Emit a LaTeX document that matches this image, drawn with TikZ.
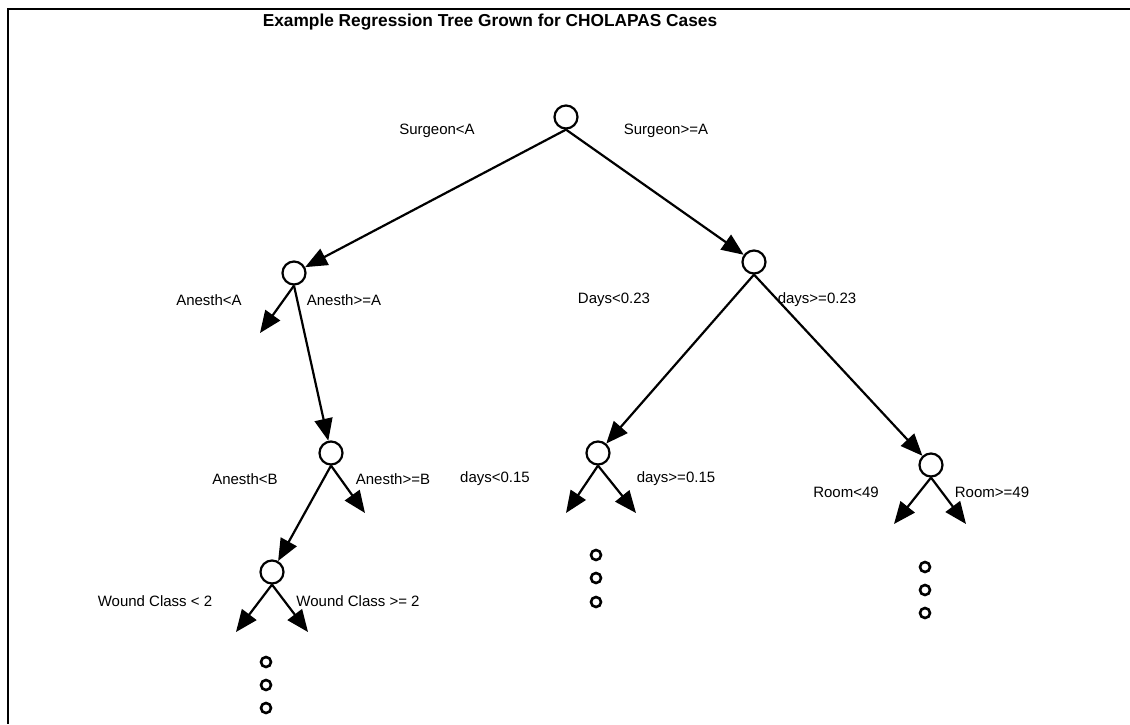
\documentclass[tikz,border=0pt]{standalone}
\usepackage{fontspec}
\setmainfont{Liberation Sans}
\usetikzlibrary{arrows.meta}
\begin{document}
\begin{tikzpicture}[x=1pt,y=-1pt,
  split/.style={circle,draw,line width=2.2pt,minimum size=23pt,inner sep=0pt},
  dotnode/.style={circle,draw,line width=2.6pt,minimum size=10pt,inner sep=0pt},
  lbl/.style={font=\fontsize{15}{18}\selectfont,inner sep=0pt},
  ttl/.style={font=\fontsize{17.3}{20}\selectfont\bfseries,inner sep=0pt},
  edge/.style={line width=2.2pt,-{Triangle[length=22pt,width=18pt]}},
  frameline/.style={line width=2.4pt}]
\useasboundingbox (0,0) rectangle (1130,724);
% frame
\coordinate (ftr) at (1130,9);
\coordinate (ftl) at (8,9);
\coordinate (fbl) at (8,724);
\draw[frameline] (ftr) -- (ftl) -- (fbl);
% title
\node[ttl] (title) at (490,22) {Example Regression Tree Grown for CHOLAPAS Cases};
% split nodes
\node[split] (root) at (566,117) {};
\node[split] (L1) at (294,273) {};
\node[split] (R1) at (754,262) {};
\node[split] (L2) at (331,453) {};
\node[split] (M) at (598,453) {};
\node[split] (RR) at (931,465) {};
\node[split] (L3) at (272,572) {};
% leaf end points
\coordinate (L1a) at (260,333);
\coordinate (L2b) at (365,513);
\coordinate (Ma) at (566,513);
\coordinate (Mb) at (636,513);
\coordinate (RRa) at (894,524);
\coordinate (RRb) at (966,524);
\coordinate (L3a) at (236,632);
\coordinate (L3b) at (308,632);
% edges
\draw[edge] (root.south) -- (L1);
\draw[edge] (root.south) -- (R1);
\draw[edge] (L1.south) -- (L1a);
\draw[edge] (L1.south) -- (L2);
\draw[edge] (R1.south) -- (M);
\draw[edge] (R1.south) -- (RR);
\draw[edge] (L2.south) -- (L3);
\draw[edge] (L2.south) -- (L2b);
\draw[edge] (M.south) -- (Ma);
\draw[edge] (M.south) -- (Mb);
\draw[edge] (RR.south) -- (RRa);
\draw[edge] (RR.south) -- (RRb);
\draw[edge] (L3.south) -- (L3a);
\draw[edge] (L3.south) -- (L3b);
% labels
\node[lbl] (s1) at (437,131) {Surgeon<A};
\node[lbl] (s2) at (666,131) {Surgeon>=A};
\node[lbl] (a1) at (209,300) {Anesth<A};
\node[lbl] (a2) at (344,300) {Anesth>=A};
\node[lbl] (d1) at (614,300) {Days<0.23};
\node[lbl] (d2) at (817,300) {days>=0.23};
\node[lbl] (b1) at (245,479) {Anesth<B};
\node[lbl] (b2) at (393,479) {Anesth>=B};
\node[lbl] (e1) at (495,479) {days<0.15};
\node[lbl] (e2) at (676,479) {days>=0.15};
\node[lbl] (r1) at (846,492) {Room<49};
\node[lbl] (r2) at (992,492) {Room>=49};
\node[lbl] (w1) at (155,601) {Wound Class < 2};
\node[lbl] (w2) at (358,601) {Wound Class >= 2};
% continuation dots
\node[dotnode] (p1) at (266,662) {};
\node[dotnode] (p2) at (266,685) {};
\node[dotnode] (p3) at (266,708) {};
\node[dotnode] (q1) at (596,555) {};
\node[dotnode] (q2) at (596,578) {};
\node[dotnode] (q3) at (596,602) {};
\node[dotnode] (t1) at (925,567) {};
\node[dotnode] (t2) at (925,590) {};
\node[dotnode] (t3) at (925,613) {};
\end{tikzpicture}
\end{document}
